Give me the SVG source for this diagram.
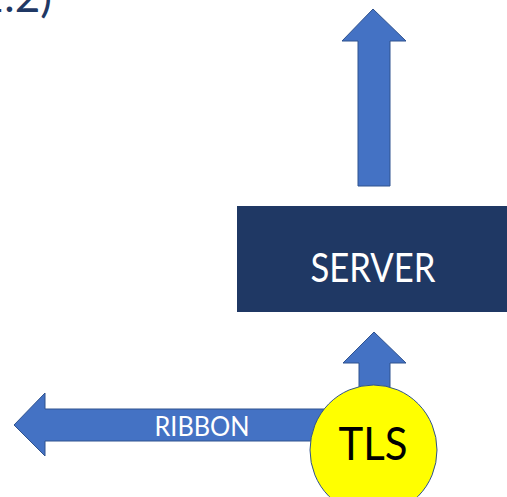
<svg xmlns="http://www.w3.org/2000/svg" width="507" height="497" viewBox="0 0 507 497">
<style>
.arrow{fill:#4472C4;stroke:#2F528F;stroke-width:1}
.lbl{font-family:Lato,"Open Sans","Liberation Sans",sans-serif}
</style>
<rect width="507" height="497" fill="#FFFFFF"/>
<g id="title">
<text class="lbl" x="52" y="12" font-size="44" fill="#1F3864" text-anchor="end">1.2)</text>
</g>
<g id="connectors">
<path class="arrow" d="M373,9 L406,41 L390,41 L390,186 L358,186 L358,41 L342,41 Z"/>
<path class="arrow" d="M374,332 L406,363 L390,363 L390,400 L359,400 L359,363 L343,363 Z"/>
<path class="arrow" d="M14,425 L45,393 L45,409 L335,409 L335,441 L45,441 L45,456 Z"/>
<text class="lbl" x="202" y="436" font-size="26" fill="#FFFFFF" text-anchor="middle" textLength="95" lengthAdjust="spacingAndGlyphs">RIBBON</text>
</g>
<g id="server">
<rect x="237" y="206" width="270" height="106" fill="#1F3864"/>
<text class="lbl" x="373" y="282" font-size="40" fill="#FFFFFF" text-anchor="middle" textLength="125" lengthAdjust="spacingAndGlyphs">SERVER</text>
</g>
<g id="tls">
<ellipse cx="373.5" cy="450" rx="63.5" ry="65" fill="#FFFF00" stroke="#2F528F" stroke-width="1"/>
<text class="lbl" x="373" y="460" font-size="46" fill="#000000" text-anchor="middle" textLength="69" lengthAdjust="spacingAndGlyphs">TLS</text>
</g>
</svg>
